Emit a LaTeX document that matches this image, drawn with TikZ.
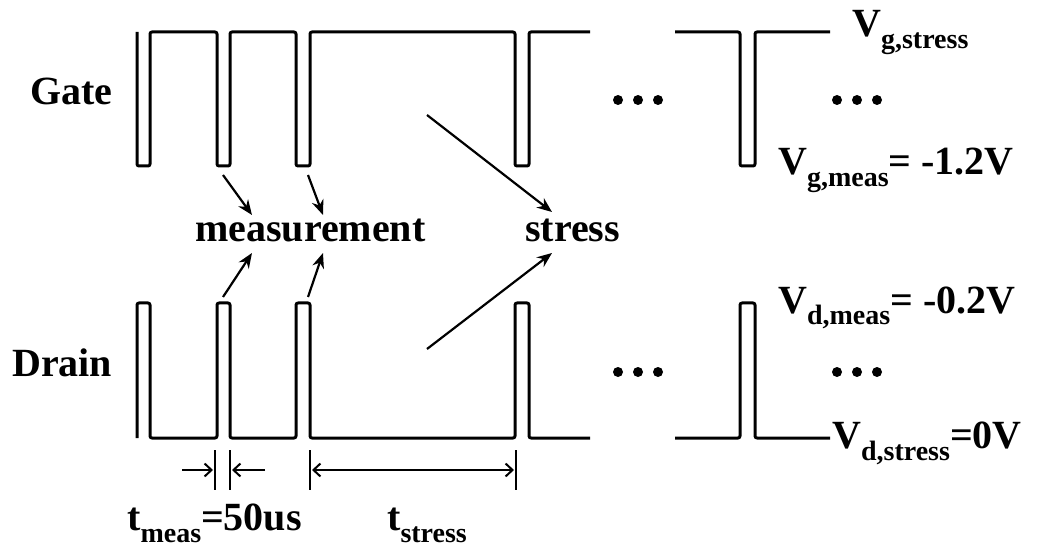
\documentclass[tikz,border=0pt]{standalone}
\usepackage{fontspec}
\setmainfont{Liberation Serif}
\usetikzlibrary{arrows.meta}
\newcommand\lsub[1]{\raisebox{-0.3em}{\fontsize{28pt}{28pt}\selectfont #1}}
\tikzset{
  wave/.style={line width=3pt, rounded corners=2pt, line join=round},
  lbl/.style={inner sep=0pt, anchor=base west, font=\fontsize{40pt}{40pt}\selectfont\bfseries},
  pointer/.style={line width=2.2pt, -{Stealth[length=15pt,width=12pt]}},
  tick/.style={line width=2pt},
  dimarrow/.style={line width=2pt, -{Straight Barb[length=7pt,width=13pt]}},
  dimboth/.style={line width=2pt, {Straight Barb[length=7pt,width=13pt]}-{Straight Barb[length=7pt,width=13pt]}},
  dotmark/.style={fill=black}
}
\begin{document}
\begin{tikzpicture}[x=1pt,y=-1pt]
\useasboundingbox (0,0) rectangle (1037,548);
% gate waveform
\draw[wave] (137,32) -- (137,166) -- (150,166) -- (150,32) -- (217,32) -- (217,166) -- (230,166) -- (230,32)
  -- (296,32) -- (296,166) -- (310,166) -- (310,32) -- (515,32) -- (515,166) -- (529,166) -- (529,32) -- (590,32);
\draw[wave] (675,32) -- (740,32) -- (740,166) -- (755,166) -- (755,32) -- (830,32);
% drain waveform
\draw[wave] (137,438) -- (137,303) -- (150,303) -- (150,438) -- (217,438) -- (217,303) -- (230,303) -- (230,438)
  -- (296,438) -- (296,303) -- (310,303) -- (310,438) -- (515,438) -- (515,303) -- (529,303) -- (529,438) -- (590,438);
\draw[wave] (675,438) -- (740,438) -- (740,303) -- (755,303) -- (755,438) -- (830,438);
% dots
\foreach \x in {618,638,658,837,857,877}{
  \fill[dotmark] (\x,100) circle (5);
  \fill[dotmark] (\x,372) circle (5);
}
% labels
\node[lbl] (gate) at (30,105) {Gate};
\node[lbl] (drain) at (12,377) {Drain};
\node[lbl] (meas) at (195,242) {measurement};
\node[lbl] (stress) at (525,242) {stress};
\node[lbl] (vgs) at (852,37) {V\lsub{g,stress}};
\node[lbl] (vgm) at (778,175) {V\lsub{g,meas}= -1.2V};
\node[lbl] (vdm) at (778,313) {V\lsub{d,meas}= -0.2V};
\node[lbl] (vds) at (832,448) {V\lsub{d,stress}=0V};
\node[lbl] (tm) at (127,530) {t\lsub{meas}=50us};
\node[lbl] (ts) at (387,530) {t\lsub{stress}};
% pointer arrows
\coordinate (g1) at (223,175); \coordinate (m1t) at (252,215);
\coordinate (g2) at (308,175); \coordinate (m2t) at (323,215);
\coordinate (g3) at (427,115); \coordinate (st) at (552,212);
\coordinate (d1) at (223,297); \coordinate (m1b) at (252,253);
\coordinate (d2) at (308,297); \coordinate (m2b) at (323,253);
\coordinate (d3) at (427,349); \coordinate (sb) at (552,253);
\draw[pointer] (g1) -- (m1t);
\draw[pointer] (g2) -- (m2t);
\draw[pointer] (g3) -- (st);
\draw[pointer] (d1) -- (m1b);
\draw[pointer] (d2) -- (m2b);
\draw[pointer] (d3) -- (sb);
% dimension marks
\coordinate (k1t) at (215,450); \coordinate (k1b) at (215,490);
\coordinate (k2t) at (230,450); \coordinate (k2b) at (230,490);
\coordinate (k3t) at (310,450); \coordinate (k3b) at (310,490);
\coordinate (k4t) at (516,450); \coordinate (k4b) at (516,490);
\draw[tick] (k1t) -- (k1b);
\draw[tick] (k2t) -- (k2b);
\draw[tick] (k3t) -- (k3b);
\draw[tick] (k4t) -- (k4b);
\coordinate (a1s) at (182,470); \coordinate (a1e) at (213,470);
\coordinate (a2s) at (265,470); \coordinate (a2e) at (232,470);
\coordinate (a3s) at (312,470); \coordinate (a3e) at (514,470);
\draw[dimarrow] (a1s) -- (a1e);
\draw[dimarrow] (a2s) -- (a2e);
\draw[dimboth] (a3s) -- (a3e);
\end{tikzpicture}
\end{document}
